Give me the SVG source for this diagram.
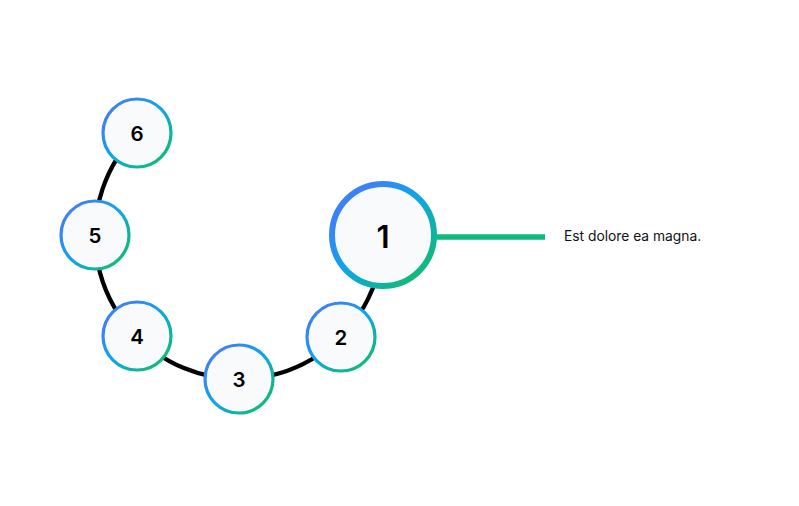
<svg xmlns="http://www.w3.org/2000/svg" width="799" height="506" viewBox="0 0 799 506">
  <defs>
    <linearGradient id="ring" x1="0" y1="0" x2="1" y2="1">
      <stop offset="0.18" stop-color="#3b82f6"/>
      <stop offset="0.48" stop-color="#0ea5e9"/>
      <stop offset="0.85" stop-color="#10b981"/>
    </linearGradient>
    <style>
      .node { fill: #f8fafc; stroke: url(#ring); }
      .small { stroke-width: 3.2; }
      .big { stroke-width: 6; }
      .num { font-family: "Inter", "Liberation Sans", sans-serif; font-weight: 600; fill: #000; text-anchor: middle; dominant-baseline: central; }
      .label { font-family: "Inter", "Liberation Sans", sans-serif; font-size: 13.8px; fill: #111; }
    </style>
  </defs>
  <rect width="799" height="506" fill="#ffffff"/>
  <g id="connectors">
    <path d="M 137.18 133.18 A 144 144 0 1 0 383 235" fill="none" stroke="#000" stroke-width="4.3"/>
    <line x1="436" y1="237" x2="545" y2="237" stroke="#10b981" stroke-width="5.5"/>
  </g>
  <g id="node-1">
    <circle class="node big" cx="383" cy="235" r="51"/>
    <text class="num" x="383" y="236" font-size="31">1</text>
  </g>
  <g id="node-2">
    <circle class="node small" cx="341" cy="337" r="34"/>
    <text class="num" x="341" y="337" font-size="20.5">2</text>
  </g>
  <g id="node-3">
    <circle class="node small" cx="239" cy="379" r="34"/>
    <text class="num" x="239" y="379" font-size="20.5">3</text>
  </g>
  <g id="node-4">
    <circle class="node small" cx="137" cy="336" r="34"/>
    <text class="num" x="137" y="336" font-size="20.5">4</text>
  </g>
  <g id="node-5">
    <circle class="node small" cx="95" cy="235" r="34"/>
    <text class="num" x="95" y="235" font-size="20.5">5</text>
  </g>
  <g id="node-6">
    <circle class="node small" cx="137" cy="133" r="34"/>
    <text class="num" x="137" y="133" font-size="20.5">6</text>
  </g>
  <g id="label-1">
    <text class="label" x="564" y="241">Est dolore ea magna.</text>
  </g>
</svg>
